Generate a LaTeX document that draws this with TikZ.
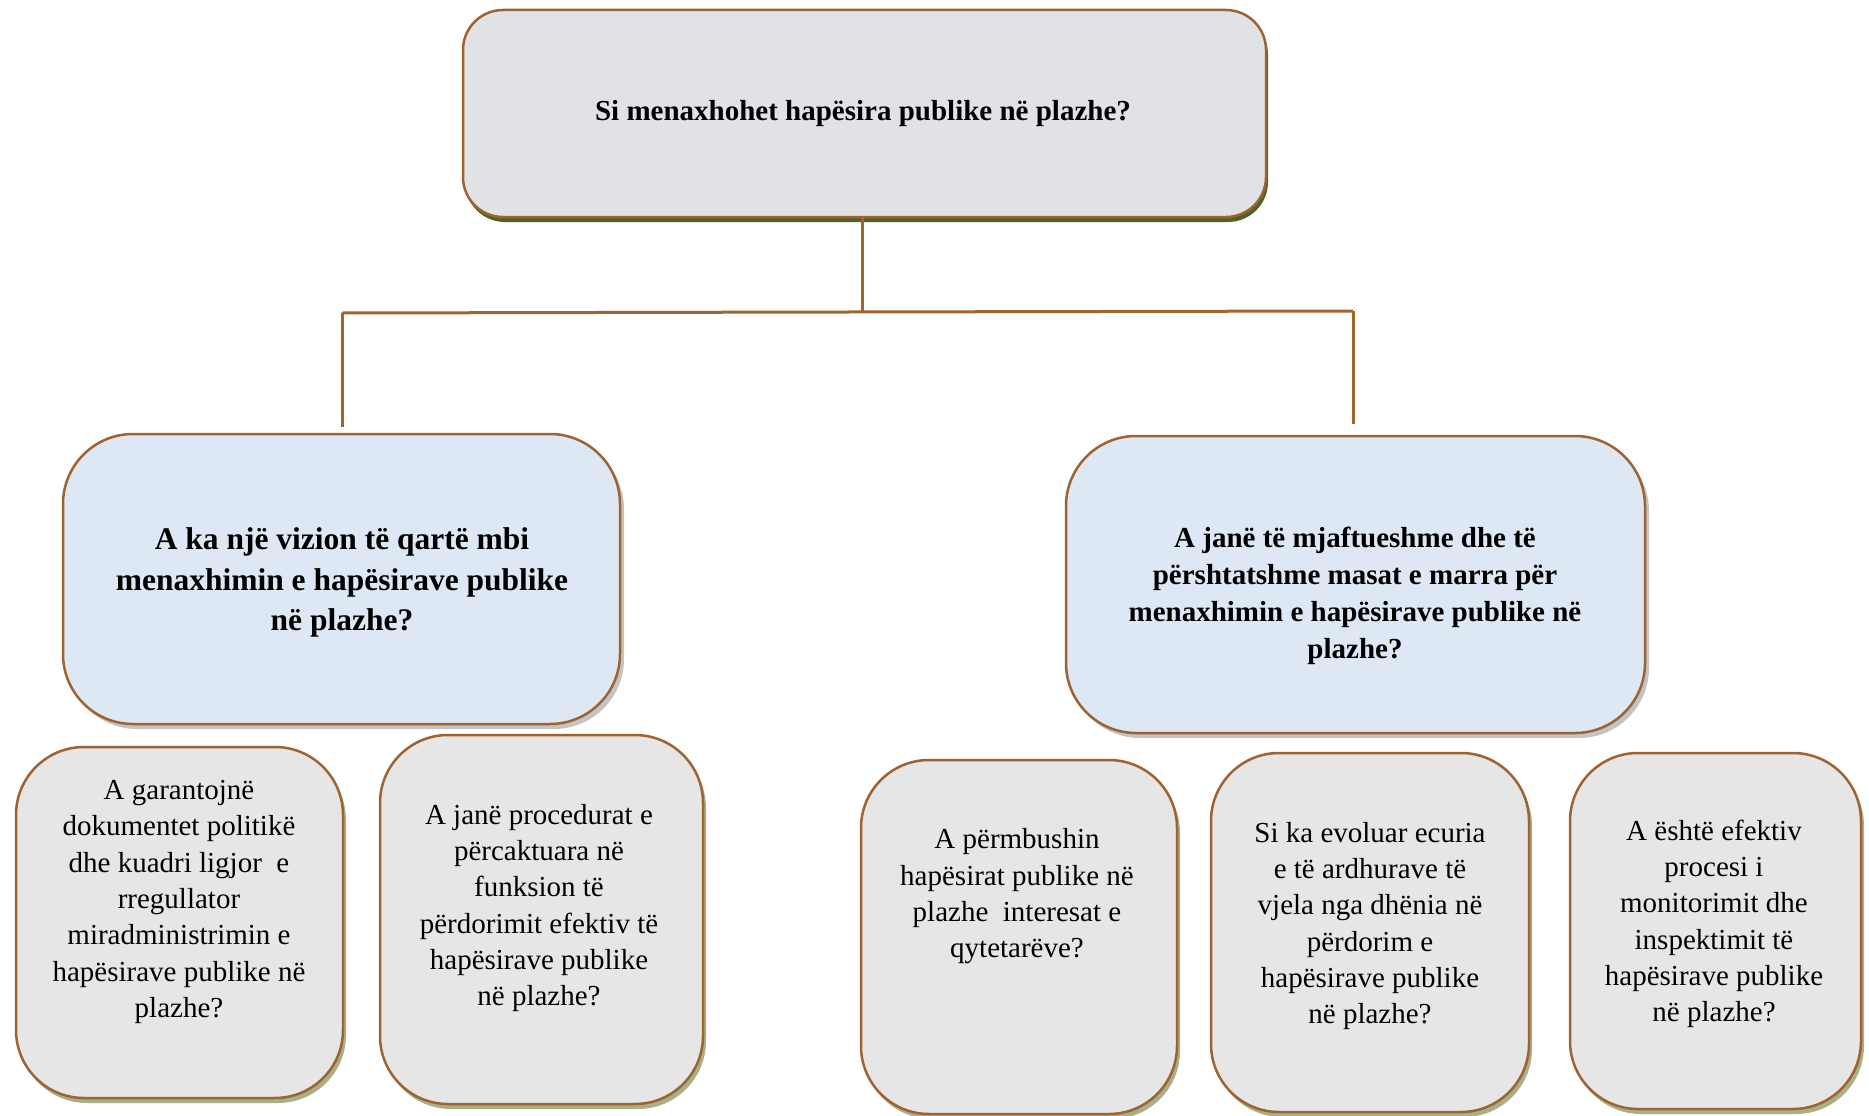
\documentclass[tikz,border=0pt]{standalone}
\usepackage{fontspec}
\setmainfont{Liberation Serif}
\usetikzlibrary{shadows}
\definecolor{brd}{HTML}{9E6331}
\definecolor{conn}{HTML}{A0652F}
\definecolor{topfill}{HTML}{E1E2E6}
\definecolor{midfill}{HTML}{DEE8F4}
\definecolor{botfill}{HTML}{E6E6E6}
\definecolor{topshadow}{HTML}{4F6228}
\definecolor{midshadow}{HTML}{C4C4C4}
\definecolor{botshadow}{HTML}{A8B088}
\tikzset{
  box/.style={draw=brd, line width=2.5pt, inner sep=0pt, outer sep=0pt},
  topbox/.style={box, fill=topfill, rounded corners=40pt,
    general shadow={fill=topshadow, shadow xshift=2pt, shadow yshift=-5pt}},
  midbox/.style={box, fill=midfill, rounded corners=70pt,
    general shadow={fill=midshadow, shadow xshift=4pt, shadow yshift=-5pt}},
  botbox/.style={box, fill=botfill, rounded corners=68pt,
    general shadow={fill=botshadow, shadow xshift=3pt, shadow yshift=-5pt}},
  txt/.style={align=center, inner sep=0pt, font=\fontsize{29}{36.3}\selectfont},
  btxt/.style={align=center, inner sep=0pt, font=\fontsize{29}{37}\selectfont\bfseries},
  bbtxt/.style={align=center, inner sep=0pt, font=\fontsize{31.5}{40.5}\selectfont\bfseries},
  link/.style={draw=conn, line width=3pt}
}
\begin{document}
\begin{tikzpicture}[x=1pt, y=-1pt]
\useasboundingbox (0,0) rectangle (1869,1116);
% boxes
\node[topbox, minimum width=803pt, minimum height=207pt] (top) at (864.5,113.5) {};
\node[midbox, minimum width=557pt, minimum height=290pt] (lm) at (341.5,579) {};
\node[midbox, minimum width=579pt, minimum height=297pt] (rm) at (1355.5,584.5) {};
\node[botbox, minimum width=327pt, minimum height=351pt] (b1) at (179.5,922.5) {};
\node[botbox, minimum width=323pt, minimum height=369pt] (b2) at (541.5,919.5) {};
\node[botbox, minimum width=316pt, minimum height=354pt] (b3) at (1019,937) {};
\node[botbox, minimum width=318pt, minimum height=359pt] (b4) at (1370,932.5) {};
\node[botbox, minimum width=291pt, minimum height=356pt] (b5) at (1715.5,931) {};
% texts
\node[btxt] (ttop) at (863,114) {Si menaxhohet hapësira publike në plazhe?};
\node[bbtxt] (tlm) at (342,582.5) {A ka një vizion të qartë mbi\\ menaxhimin e hapësirave publike\\ në plazhe?};
\node[btxt] (trm) at (1355,595.5) {A janë të mjaftueshme dhe të\\ përshtatshme masat e marra për\\ menaxhimin e hapësirave publike në\\ plazhe?};
\node[txt] (tb1) at (179,902) {A garantojnë\\ dokumentet politikë\\ dhe kuadri ligjor~ e\\ rregullator\\ miradministrimin e\\ hapësirave publike në\\ plazhe?};
\node[txt] (tb2) at (539,908) {A janë procedurat e\\ përcaktuara në\\ funksion të\\ përdorimit efektiv të\\ hapësirave publike\\ në plazhe?};
\node[txt] (tb3) at (1017,896.5) {A përmbushin\\ hapësirat publike në\\ plazhe~ interesat e\\ qytetarëve?};
\node[txt] (tb4) at (1370,926) {Si ka evoluar ecuria\\ e të ardhurave të\\ vjela nga dhënia në\\ përdorim e\\ hapësirave publike\\ në plazhe?};
\node[txt] (tb5) at (1714,924) {A është efektiv\\ procesi i\\ monitorimit dhe\\ inspektimit të\\ hapësirave publike\\ në plazhe?};
% connectors
\coordinate (jc) at (862,312);
\coordinate (hl) at (342,313);
\coordinate (hr) at (1353,311);
\coordinate (el) at (342,427);
\coordinate (er) at (1353,424);
\draw[link] (top.south -| jc) -- (jc);
\draw[link] (hl) -- (hr);
\draw[link] (hl) -- (el);
\draw[link] (hr) -- (er);
\end{tikzpicture}
\end{document}
